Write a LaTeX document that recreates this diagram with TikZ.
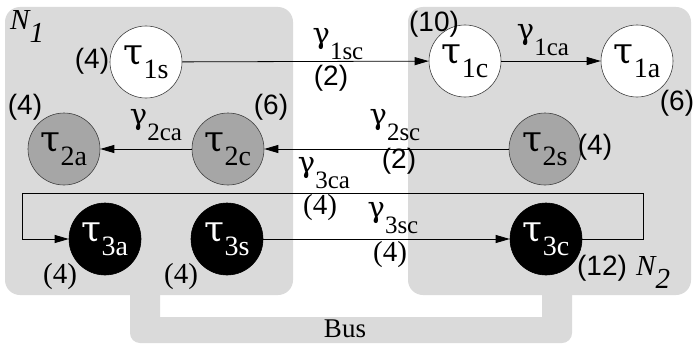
\documentclass[tikz,border=0pt]{standalone}
\usepackage{fontspec}
\setmainfont{Liberation Serif}
\setsansfont{Liberation Sans}
\newfontfamily\greekfont{DejaVu Serif}
\usepackage{xcolor}
\usetikzlibrary{arrows.meta}

\definecolor{boxgray}{HTML}{DADADA}
\definecolor{taskgray}{HTML}{A6A6A6}

% task, message and node labels
\newcommand{\tsk}[1]{{\greekfont\fontsize{36}{36}\selectfont τ}\raisebox{-14pt}{\fontsize{28}{28}\selectfont #1}}
\newcommand{\msg}[1]{{\greekfont\fontsize{29}{29}\selectfont γ}\raisebox{-16pt}{\fontsize{25}{25}\selectfont #1}}
\newcommand{\net}[1]{{\fontsize{29}{29}\selectfont\itshape N\raisebox{-13pt}{#1}}}

\begin{document}
\begin{tikzpicture}[
      x=1pt, y=-1pt,
      task/.style={circle, draw=black!75, line width=0.6pt, minimum size=72pt, inner sep=0pt},
      wtask/.style={task, fill=white},
      gtask/.style={task, fill=taskgray},
      btask/.style={task, fill=black, draw=black, text=white},
      cost/.style={inner sep=0pt, font=\fontsize{28}{28}\selectfont\sffamily},
      scost/.style={inner sep=0pt, font=\fontsize{29}{29}\selectfont\rmfamily},
      lbl/.style={inner sep=0pt},
      arr/.style={draw, line width=0.8pt, -{Triangle[length=14pt, width=8pt]}}
    ]
    \fill[white] (0,0) rectangle (695,345);
    \useasboundingbox (0,0) rectangle (695,345);

    % processors and bus
    \fill[boxgray, rounded corners=15pt] (5,7) rectangle (293,295);
    \fill[boxgray, rounded corners=15pt] (408,7) rectangle (691,295);
    \fill[boxgray] (130,280) [rounded corners=10pt] -- (130,343) -- (572,343) -- (572,280)
      [sharp corners] -- (542,280) -- (542,317) -- (160,317) -- (160,280) -- cycle;
    \node[lbl, font=\fontsize{27}{27}\selectfont] (bus) at (345,329) {Bus};
    \node[lbl, anchor=north west] (n1) at (10,10) {\net{1}};
    \node[lbl, anchor=north west] (n2) at (636,256) {\net{2}};

    % tasks
    \node[wtask] (t1s) at (146,62) {\tsk{1s}};
    \node[wtask] (t1c) at (465,61) {\tsk{1c}};
    \node[wtask] (t1a) at (637,61) {\tsk{1a}};
    \node[gtask] (t2a) at (64,149) {\tsk{2a}};
    \node[gtask] (t2c) at (228,149) {\tsk{2c}};
    \node[gtask] (t2s) at (545,149) {\tsk{2s}};
    \node[btask] (t3a) at (105,239) {\tsk{3a}};
    \node[btask] (t3s) at (227,239) {\tsk{3s}};
    \node[btask] (t3c) at (546,239) {\tsk{3c}};

    % execution times
    \node[cost] (c1s) at (92,61) {(4)};
    \node[cost] (c1c) at (434,24) {(10)};
    \node[cost] (c1a) at (677,103) {(6)};
    \node[cost] (c2a) at (25,107) {(4)};
    \node[cost] (c2c) at (271,107) {(6)};
    \node[cost] (c2s) at (595,147) {(4)};
    \node[scost] (c3a) at (60,277) {(4)};
    \node[scost] (c3s) at (181,277) {(4)};
    \node[cost] (c3c) at (602,268) {(12)};

    % messages
    \coordinate (r3) at (643,193);
    \coordinate (l3) at (22,193);
    \draw[arr] (t1s) -- (t1c);
    \draw[arr] (t1c) -- (t1a);
    \draw[arr] (t2s) -- (t2c);
    \draw[arr] (t2c) -- (t2a);
    \draw[arr] (t3s) -- (t3c);
    \draw[arr] (t3c.east) -| (r3) -- (l3) |- (t3a.west);

    \node[lbl] (g1sc) at (338,44) {\msg{1sc}};
    \node[cost] (m1sc) at (331,78) {(2)};
    \node[lbl] (g1ca) at (543,40) {\msg{1ca}};
    \node[lbl] (g2sc) at (395,125) {\msg{2sc}};
    \node[cost] (m2sc) at (399,161) {(2)};
    \node[lbl] (g2ca) at (156,125) {\msg{2ca}};
    \node[lbl] (g3ca) at (324,173) {\msg{3ca}};
    \node[scost] (m3ca) at (320,208) {(4)};
    \node[lbl] (g3sc) at (393,218) {\msg{3sc}};
    \node[scost] (m3sc) at (390,255) {(4)};
  \end{tikzpicture}
\end{document}
